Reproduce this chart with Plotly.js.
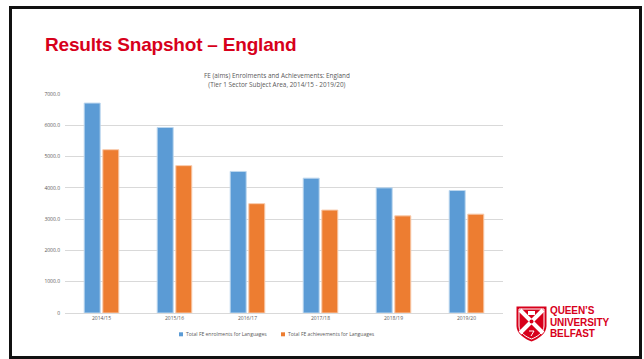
<!DOCTYPE html>
<html>
<head>
<meta charset="utf-8">
<script src="https://cdn.plot.ly/plotly-3.0.1.min.js"></script>
<style>
html,body{margin:0;padding:0;background:#fff;}
#wrap{position:relative;width:644px;height:359px;overflow:hidden;background:#fff;}
#frame{position:absolute;left:9px;top:6px;width:627px;height:347px;border:3px solid #111;box-sizing:content-box;pointer-events:none;}
#chart{position:absolute;left:0;top:0;width:644px;height:359px;}
#heading{position:absolute;left:45px;top:34px;font-family:"Liberation Sans",Arial,sans-serif;font-weight:bold;font-size:19px;color:#D7001B;letter-spacing:-0.2px;white-space:nowrap;}
#logo{position:absolute;left:516px;top:306px;}
.lt{position:absolute;left:550px;font-family:"Liberation Sans",Arial,sans-serif;font-weight:bold;color:#D7001B;font-size:10px;line-height:11.5px;height:11.5px;letter-spacing:-0.1px;white-space:nowrap;}
</style>
</head>
<body>
<div id="wrap">
  <div id="chart"></div>
  <div id="heading">Results Snapshot – England</div>
  <svg id="logo" width="31" height="36" viewBox="0 0 31 36">
    <path d="M0.5 0.5 H30.5 V20 C30.5 28 22 33 15.5 35.5 C9 33 0.5 28 0.5 20 Z" fill="#D7001B"/>
    <path d="M3 3 H28 V20 C28 26.5 21 31 15.5 33 C10 31 3 26.5 3 20 Z" fill="none" stroke="#fff" stroke-width="1"/>
    <path d="M4 4 L27 27 M27 4 L4 27" stroke="#fff" stroke-width="4"/>
    <rect x="12" y="5" width="7" height="4" fill="#fff"/>
    <circle cx="15.5" cy="15.5" r="2" fill="#D7001B"/>
    <path d="M13 25 L18 25 L15 30" stroke="#fff" stroke-width="1" fill="none"/>
  </svg>
  <div class="lt" style="top:305px;">QUEEN’S</div>
  <div class="lt" style="top:316.5px;">UNIVERSITY</div>
  <div class="lt" style="top:328px;">BELFAST</div>
  <div id="frame"></div>
</div>
<script>
const categories = ["2014/15", "2015/16", "2016/17", "2017/18", "2018/19", "2019/20"];
const enrolments = [6710, 5930, 4525, 4310, 4000, 3915];
const achievements = [5220, 4710, 3495, 3290, 3105, 3160];
const seriesNames = ["Total FE enrolments for Languages", "Total FE achievements for Languages"];
const seriesColors = ["#5B9BD5", "#ED7D31"];
const yTickVals = [0, 1000, 2000, 3000, 4000, 5000, 6000, 7000];
const yTickText = ["0", "1000.0", "2000.0", "3000.0", "4000.0", "5000.0", "6000.0", "7000.0"];

const traces = [
  {type: "bar", name: seriesNames[0], x: categories, y: enrolments, showlegend: false,
   marker: {color: seriesColors[0], line: {color: "#BDD7EE", width: 1}}},
  {type: "bar", name: seriesNames[1], x: categories, y: achievements, showlegend: false,
   marker: {color: seriesColors[1], line: {color: "#F8CBAD", width: 1}}}
];

// plot area: x 65..503, y 94..313
const PL = 65, PW = 438, PT = 94, PH = 219;
const px = v => (v - PL) / PW;
const py = v => (PT + PH - v) / PH;
const legendX = [179, 281];
const legendY = 334.3;
const shapes = [], annotations = [];
seriesNames.forEach((n, i) => {
  shapes.push({type: "rect", xref: "paper", yref: "paper",
    x0: px(legendX[i]), x1: px(legendX[i] + 4), y0: py(legendY + 2), y1: py(legendY - 2),
    fillcolor: seriesColors[i], line: {width: 0}});
  annotations.push({xref: "paper", yref: "paper", x: px(legendX[i] + 4.5), y: py(legendY),
    xanchor: "left", yanchor: "middle", showarrow: false, text: n,
    font: {size: 5, color: "#595959", family: "Open Sans, sans-serif"}});
});

const layout = {
  width: 644, height: 359,
  paper_bgcolor: "rgba(0,0,0,0)", plot_bgcolor: "rgba(0,0,0,0)",
  margin: {l: 65, r: 141, t: 94, b: 46, pad: 0},
  barmode: "group", bargap: 0.49, bargroupgap: 0.14,
  font: {family: "Open Sans, sans-serif", color: "#595959"},
  title: {
    text: "FE (aims) Enrolments and Achievements: England<br>(Tier 1 Sector Subject Area, 2014/15 - 2019/20)",
    font: {size: 6.4, color: "#595959", family: "Open Sans, sans-serif"},
    xref: "container", x: 0.43, xanchor: "center",
    yref: "container", y: 0.782, yanchor: "middle"
  },
  xaxis: {
    type: "category", showgrid: false, showline: true, linecolor: "#D9D9D9", linewidth: 1,
    ticks: "", tickfont: {size: 5, color: "#595959"}, fixedrange: true
  },
  yaxis: {
    range: [0, 7000], tickvals: yTickVals, ticktext: yTickText,
    showgrid: true, gridcolor: "#D9D9D9", gridwidth: 1, zeroline: false,
    showline: false, ticks: "", ticklabelstandoff: 4,
    tickfont: {size: 5, color: "#595959"}, fixedrange: true
  },
  showlegend: false,
  shapes: shapes,
  annotations: annotations
};

Plotly.newPlot("chart", traces, layout, {displayModeBar: false, staticPlot: true});
</script>
</body>
</html>
